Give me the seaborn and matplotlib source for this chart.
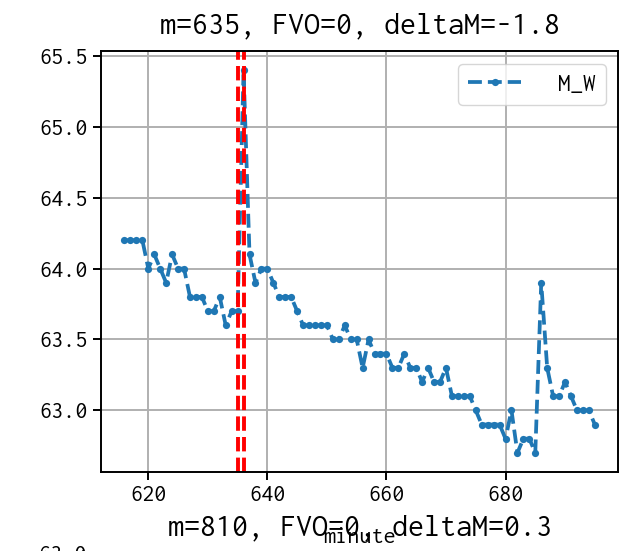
import matplotlib
matplotlib.use("Agg")
import matplotlib.pyplot as plt
import seaborn as sns
import pandas as pd

# M_W readings per minute
minutes = list(range(616, 696))
m_w = [64.2, 64.2, 64.2, 64.2, 64.0, 64.1, 64.0, 63.9, 64.1, 64.0,
       64.0, 63.8, 63.8, 63.8, 63.7, 63.7, 63.8, 63.6, 63.7, 63.7,
       65.4, 64.1, 63.9, 64.0, 64.0, 63.9, 63.8, 63.8, 63.8, 63.7,
       63.6, 63.6, 63.6, 63.6, 63.6, 63.5, 63.5, 63.6, 63.5, 63.5,
       63.3, 63.5, 63.4, 63.4, 63.4, 63.3, 63.3, 63.4, 63.3, 63.3,
       63.2, 63.3, 63.2, 63.2, 63.3, 63.1, 63.1, 63.1, 63.1, 63.0,
       62.9, 62.9, 62.9, 62.9, 62.8, 63.0, 62.7, 62.8, 62.8, 62.7,
       63.9, 63.3, 63.1, 63.1, 63.2, 63.1, 63.0, 63.0, 63.0, 62.9]
event_minutes = [635, 636]
x_ticks = [620, 640, 660, 680]
y_ticks = [63.0, 63.5, 64.0, 64.5, 65.0, 65.5]
y_tick_labels = ["63.0", "63.5", "64.0", "64.5", "65.0", "65.5"]
title = "m=635, FVO=0, deltaM=-1.8"
next_title = "m=810, FVO=0, deltaM=0.3"
next_top_label = "63.0"

df = pd.DataFrame({"minute": minutes, "M_W": m_w})

plt.rcParams["font.family"] = ["Inconsolata", "Liberation Mono", "DejaVu Sans"]
plt.rcParams["axes.unicode_minus"] = False

fig = plt.figure(figsize=(6.28, 5.51), dpi=100)
ax = fig.add_axes([0.1608, 0.1434, 0.8238, 0.764])

sns.lineplot(data=df, x="minute", y="M_W", ax=ax, label="M_W",
             color="#1f77b4", linestyle="--", linewidth=2.7,
             marker="o", markersize=5.2, markeredgewidth=0)
for m in event_minutes:
    ax.axvline(m, color="red", linestyle="--", linewidth=2.8)

ax.set_xticks(x_ticks)
ax.set_yticks(y_ticks)
ax.set_yticklabels(y_tick_labels)
ax.grid(True, color="#b0b0b0", linewidth=1.4)
ax.set_axisbelow(True)
for s in ax.spines.values():
    s.set_linewidth(1.4)
ax.tick_params(labelsize=17.5, width=1.4, length=6)
ax.set_ylabel("")
ax.set_xlabel("minute", fontsize=17.5, labelpad=16)
ax.set_title(title, fontsize=23, pad=13)

ax.legend(loc="upper right", fontsize=18, handlelength=2.1, handletextpad=1.5)

# title and first tick label of the next panel, cut by the frame edge
fig.text(0.5725, 1 - 528 / 551, next_title, fontsize=23, ha="center", va="center")
fig.text(87 / 628, 1 - 545 / 551, next_top_label, fontsize=17.5, ha="right", va="top")

fig.savefig("out.png", dpi=100)
